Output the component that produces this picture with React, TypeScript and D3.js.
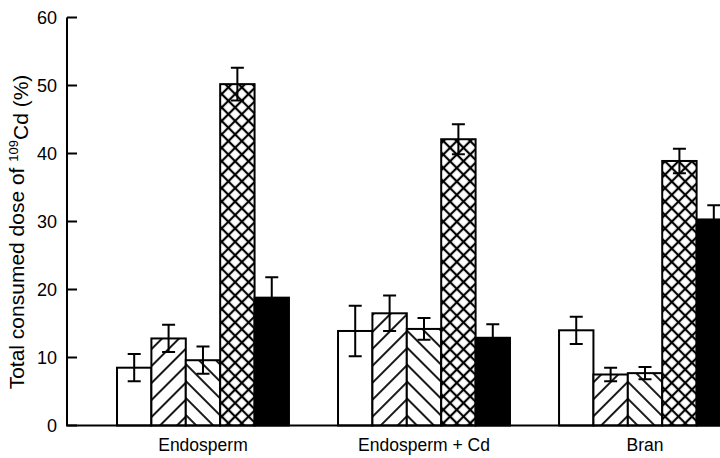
import React, { useEffect, useRef } from 'react';
import * as d3 from 'd3';

// groups along the x axis
const categories = ['Endosperm', 'Endosperm + Cd', 'Bran'];
// the five treatments, drawn left to right inside each group
const seriesKeys = ['A', 'B', 'C', 'D', 'E'];

// % of consumed 109Cd dose, one entry per category
const valuesA = [8.5, 13.9, 14.0];
const valuesB = [12.8, 16.5, 7.5];
const valuesC = [9.6, 14.2, 7.7];
const valuesD = [50.2, 42.1, 38.9];
const valuesE = [18.8, 12.9, 30.3];

// error bar half-widths
const errorsA = [2.0, 3.7, 2.0];
const errorsB = [2.0, 2.6, 1.0];
const errorsC = [2.0, 1.6, 0.9];
const errorsD = [2.4, 2.2, 1.8];
const errorsE = [3.0, 2.0, 2.1];

const yTicks = [0, 10, 20, 30, 40, 50, 60];

const FONT = '"Liberation Sans", Arial, Helvetica, sans-serif';

const App = () => {
  const svgRef = useRef<SVGSVGElement>(null);

  useEffect(() => {
    const svg = d3.select(svgRef.current);
    svg.selectAll('*').remove();

    const width = 720;
    const height = 458;
    const axisX = 67;

    const allValues = [valuesA, valuesB, valuesC, valuesD, valuesE];
    const allErrors = [errorsA, errorsB, errorsC, errorsD, errorsE];

    const rows = categories.flatMap((cat, ci) =>
      seriesKeys.map((key, si) => ({
        cat,
        key,
        value: allValues[si][ci],
        err: allErrors[si][ci],
      }))
    );

    // scales
    const y = d3.scaleLinear().domain([0, 60]).range([425.5, 17.5]);

    const x0 = d3.scaleBand()
      .domain(categories)
      .range([117, 731])
      .paddingInner(0.222)
      .paddingOuter(0);

    const x1 = d3.scaleBand()
      .domain(seriesKeys)
      .range([0, x0.bandwidth()])
      .padding(0);

    // hatch patterns
    const defs = svg.append('defs');
    const hatch = (id, angle, spacing, width) => {
      const p = defs.append('pattern')
        .attr('id', id)
        .attr('patternUnits', 'userSpaceOnUse')
        .attr('width', spacing)
        .attr('height', spacing)
        .attr('patternTransform', `rotate(${angle})`);
      p.append('rect').attr('width', spacing).attr('height', spacing).attr('fill', '#fff');
      p.append('line')
        .attr('x1', spacing / 2).attr('y1', 0)
        .attr('x2', spacing / 2).attr('y2', spacing)
        .attr('stroke', '#000')
        .attr('stroke-width', width);
      return p;
    };
    hatch('hatch-up', 45, 12, 1.8);
    hatch('hatch-down', -45, 12, 1.8);

    const cs = 9.5;
    const cross = defs.append('pattern')
      .attr('id', 'hatch-cross')
      .attr('patternUnits', 'userSpaceOnUse')
      .attr('width', cs)
      .attr('height', cs)
      .attr('patternTransform', 'rotate(45)');
    cross.append('rect').attr('width', cs).attr('height', cs).attr('fill', '#fff');
    cross.append('line')
      .attr('x1', cs / 2).attr('y1', 0).attr('x2', cs / 2).attr('y2', cs)
      .attr('stroke', '#000').attr('stroke-width', 2.2);
    cross.append('line')
      .attr('x1', 0).attr('y1', cs / 2).attr('x2', cs).attr('y2', cs / 2)
      .attr('stroke', '#000').attr('stroke-width', 2.2);

    const fills = {
      A: '#fff',
      B: 'url(#hatch-up)',
      C: 'url(#hatch-down)',
      D: 'url(#hatch-cross)',
      E: '#000',
    };

    // bars
    svg.append('g')
      .selectAll('rect')
      .data(rows)
      .join('rect')
      .attr('x', d => x0(d.cat) + x1(d.key))
      .attr('y', d => y(d.value))
      .attr('width', x1.bandwidth())
      .attr('height', d => y(0) - y(d.value))
      .attr('fill', d => fills[d.key])
      .attr('stroke', '#000')
      .attr('stroke-width', 2);

    // error bars
    const capW = 13;
    const eg = svg.append('g')
      .attr('stroke', '#000')
      .attr('stroke-width', 2)
      .attr('fill', 'none');
    eg.selectAll('path')
      .data(rows)
      .join('path')
      .attr('d', d => {
        const cx = x0(d.cat) + x1(d.key) + x1.bandwidth() / 2;
        const top = y(d.value + d.err);
        const bot = y(d.value - d.err);
        return `M${cx - capW / 2},${top}H${cx + capW / 2}M${cx},${top}V${bot}M${cx - capW / 2},${bot}H${cx + capW / 2}`;
      });

    // y axis line, inward ticks
    svg.append('line')
      .attr('x1', axisX).attr('x2', axisX)
      .attr('y1', y(60)).attr('y2', y(0))
      .attr('stroke', '#000').attr('stroke-width', 2);

    svg.append('line')
      .attr('x1', axisX - 1).attr('x2', width)
      .attr('y1', y(0)).attr('y2', y(0))
      .attr('stroke', '#000').attr('stroke-width', 2);

    svg.append('g')
      .selectAll('line')
      .data(yTicks)
      .join('line')
      .attr('x1', axisX).attr('x2', axisX + 10)
      .attr('y1', d => y(d)).attr('y2', d => y(d))
      .attr('stroke', '#000').attr('stroke-width', 2);

    svg.append('g')
      .selectAll('text')
      .data(yTicks)
      .join('text')
      .attr('x', 57)
      .attr('y', d => y(d))
      .attr('dy', '0.36em')
      .attr('text-anchor', 'end')
      .style('font-family', FONT)
      .style('font-size', '18px')
      .text(d => d);

    // category labels
    svg.append('g')
      .selectAll('text')
      .data(categories)
      .join('text')
      .attr('x', d => x0(d) + x0.bandwidth() / 2)
      .attr('y', 450.5)
      .attr('text-anchor', 'middle')
      .style('font-family', FONT)
      .style('font-size', '17.5px')
      .text(d => d);

    // y axis title
    const title = svg.append('text')
      .attr('transform', 'translate(24,232) rotate(-90)')
      .attr('text-anchor', 'middle')
      .style('font-family', FONT)
      .style('font-size', '21px');
    title.append('tspan').text('Total consumed dose of ');
    title.append('tspan').attr('dy', '-0.5em').style('font-size', '13px').text('109');
    title.append('tspan').attr('dy', '0.5em').text('Cd (%)');

    svg.attr('width', width).attr('height', height);
  }, []);

  return (
    <div style={{ position: 'absolute', left: 0, top: 0, background: '#fff' }}>
      <svg ref={svgRef} style={{ display: 'block' }}></svg>
    </div>
  );
};

export default App;
